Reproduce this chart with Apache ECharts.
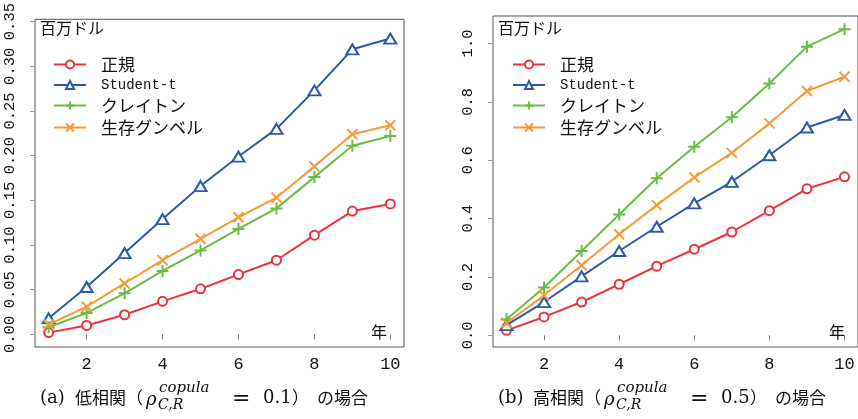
<!DOCTYPE html>
<html>
<head>
<meta charset="utf-8">
<script src="https://cdn.jsdelivr.net/npm/echarts@6/dist/echarts.min.js"></script>
<style>
  html, body { margin: 0; padding: 0; background: #fff; }
  #chart { width: 858px; height: 419px; }
</style>
</head>
<body>
<div id="chart"></div>
<script>
// Years on the horizontal axis
const years = [1, 2, 3, 4, 5, 6, 7, 8, 9, 10];

// Series names (legend order)
const seriesNames = ['正規', 'Student-t', 'クレイトン', '生存グンベル'];

// (a) low correlation, million dollars
const lowNormal   = [0.002, 0.010, 0.022, 0.037, 0.051, 0.067, 0.083, 0.111, 0.138, 0.146];
const lowStudentT = [0.018, 0.053, 0.091, 0.129, 0.166, 0.199, 0.230, 0.273, 0.319, 0.331];
const lowClayton  = [0.008, 0.024, 0.046, 0.071, 0.094, 0.118, 0.141, 0.176, 0.211, 0.222];
const lowGumbel   = [0.011, 0.031, 0.057, 0.083, 0.107, 0.131, 0.153, 0.188, 0.224, 0.234];

// (b) high correlation, million dollars
const highNormal   = [0.017, 0.063, 0.114, 0.175, 0.237, 0.295, 0.354, 0.427, 0.502, 0.543];
const highStudentT = [0.035, 0.114, 0.202, 0.289, 0.372, 0.452, 0.526, 0.617, 0.712, 0.755];
const highClayton  = [0.055, 0.164, 0.289, 0.414, 0.538, 0.646, 0.747, 0.863, 0.989, 1.049];
const highGumbel   = [0.042, 0.137, 0.240, 0.346, 0.446, 0.541, 0.625, 0.726, 0.837, 0.886];

// Tick values
const xTicks = [2, 4, 6, 8, 10];
const lowYTicks = [0, 0.05, 0.10, 0.15, 0.20, 0.25, 0.30, 0.35];
const highYTicks = [0, 0.2, 0.4, 0.6, 0.8, 1.0];

const colors = ['#EE3338', '#2C5BAA', '#6ABD45', '#F89B37'];
const symbols = [
  'emptyCircle',
  'emptyTriangle',
  'path://M5,0V10M0,5H10',
  'path://M0,0L10,10M10,0L0,10'
];
const symbolSizes = [9, [12, 10], 12, 10];

const MONO = '"Liberation Mono", "Noto Sans CJK JP", monospace';
const JP = '"Noto Sans CJK JP", sans-serif';
const SERIF = '"DejaVu Serif", serif';

function pairs(values) {
  return years.map((y, i) => [y, values[i]]);
}

function makeSeries(sets, axisIndex) {
  return sets.map((vals, i) => ({
    name: seriesNames[i],
    type: 'line',
    xAxisIndex: axisIndex,
    yAxisIndex: axisIndex,
    data: pairs(vals),
    symbol: symbols[i],
    symbolSize: symbolSizes[i],
    showAllSymbol: true,
    lineStyle: { color: colors[i], width: 2 },
    itemStyle: { color: colors[i], borderColor: colors[i], borderWidth: 2 },
    emphasis: { disabled: true },
    z: 2 + i
  }));
}

function xAxisFor(gridIndex) {
  return {
    type: 'value',
    gridIndex: gridIndex,
    min: 0.64,
    max: 10.36,
    splitLine: { show: false },
    axisLine: { show: false },
    axisTick: { show: true, length: 5, customValues: xTicks, lineStyle: { color: '#777' } },
    axisLabel: {
      customValues: xTicks,
      margin: 9,
      fontFamily: MONO,
      fontSize: 17,
      color: '#111'
    }
  };
}

function yAxisFor(gridIndex, min, max, ticks, digits) {
  return {
    type: 'value',
    gridIndex: gridIndex,
    min: min,
    max: max,
    splitLine: { show: false },
    axisLine: { show: false },
    axisTick: { show: true, length: 5, customValues: ticks, lineStyle: { color: '#999' } },
    axisLabel: {
      customValues: ticks,
      rotate: 90,
      margin: 17,
      align: 'center',
      verticalAlign: 'bottom',
      fontFamily: MONO,
      fontSize: 15.5,
      color: '#111',
      formatter: v => v.toFixed(digits)
    }
  };
}

function legendFor(left) {
  return {
    orient: 'vertical',
    left: left,
    top: 56,
    padding: 0,
    itemWidth: 32,
    itemHeight: 10,
    itemGap: 5,
    data: seriesNames,
    selectedMode: false,
    formatter: name => /^[\x00-\x7f]+$/.test(name) ? '{m|' + name + '}' : '{j|' + name + '}',
    textStyle: {
      padding: [0, 0, 0, 10],
      rich: {
        m: { fontFamily: MONO, fontSize: 14, lineHeight: 16, color: '#111' },
        j: { fontFamily: JP, fontSize: 17, lineHeight: 16, color: '#111' }
      }
    }
  };
}

// Caption with stacked super/subscript on rho
function caption(parts) {
  return parts.map(p => ({
    type: 'text',
    silent: true,
    style: {
      text: p.t,
      x: p.x,
      y: p.y,
      align: 'left',
      verticalAlign: 'middle',
      font: p.font,
      fill: '#111'
    }
  }));
}

function captionParts(x0, tag, label, value) {
  // x0: left edge of the caption
  return [
    { t: tag, x: x0, y: 398, font: '18px ' + SERIF },
    { t: label + '（', x: x0 + 35, y: 398, font: '17px ' + JP },
    { t: 'ρ', x: x0 + 106, y: 400, font: 'italic 18px ' + SERIF },
    { t: 'copula', x: x0 + 119, y: 388, font: 'italic 15px ' + SERIF },
    { t: 'C,R', x: x0 + 118, y: 405, font: 'italic 14px ' + SERIF },
    { t: '=', x: x0 + 192, y: 399, font: '22px ' + SERIF },
    { t: value, x: x0 + 223, y: 398, font: '18px ' + SERIF },
    { t: '）', x: x0 + 252, y: 398, font: '17px ' + JP },
    { t: 'の場合', x: x0 + 277, y: 398, font: '17px ' + JP }
  ];
}

const unitLabels = [
  { type: 'text', silent: true, style: { text: '百万ドル', x: 40, y: 28, verticalAlign: 'middle', font: '16px ' + JP, fill: '#111' } },
  { type: 'text', silent: true, style: { text: '百万ドル', x: 498, y: 28, verticalAlign: 'middle', font: '16px ' + JP, fill: '#111' } },
  { type: 'text', silent: true, style: { text: '年', x: 379, y: 332, align: 'center', verticalAlign: 'middle', font: '16px ' + JP, fill: '#111' } },
  { type: 'text', silent: true, style: { text: '年', x: 837, y: 332, align: 'center', verticalAlign: 'middle', font: '16px ' + JP, fill: '#111' } }
];

const chart = echarts.init(document.getElementById('chart'), null, { renderer: 'canvas' });

chart.setOption({
  animation: false,
  backgroundColor: '#fff',
  grid: [
    { left: 35, top: 17, width: 369, height: 330, show: true, borderColor: '#555', borderWidth: 1, backgroundColor: 'transparent' },
    { left: 493, top: 16, width: 370, height: 331, show: true, borderColor: '#555', borderWidth: 1, backgroundColor: 'transparent' }
  ],
  xAxis: [xAxisFor(0), xAxisFor(1)],
  yAxis: [
    yAxisFor(0, -0.0141, 0.3526, lowYTicks, 2),
    yAxisFor(1, -0.040, 1.094, highYTicks, 1)
  ],
  legend: [legendFor(53), legendFor(512)],
  series: makeSeries([lowNormal, lowStudentT, lowClayton, lowGumbel], 0)
    .concat(makeSeries([highNormal, highStudentT, highClayton, highGumbel], 1)),
  graphic: unitLabels
    .concat(caption(captionParts(40, '(a)', '低相関', '0.1')))
    .concat(caption(captionParts(498, '(b)', '高相関', '0.5')))
});
</script>
</body>
</html>
